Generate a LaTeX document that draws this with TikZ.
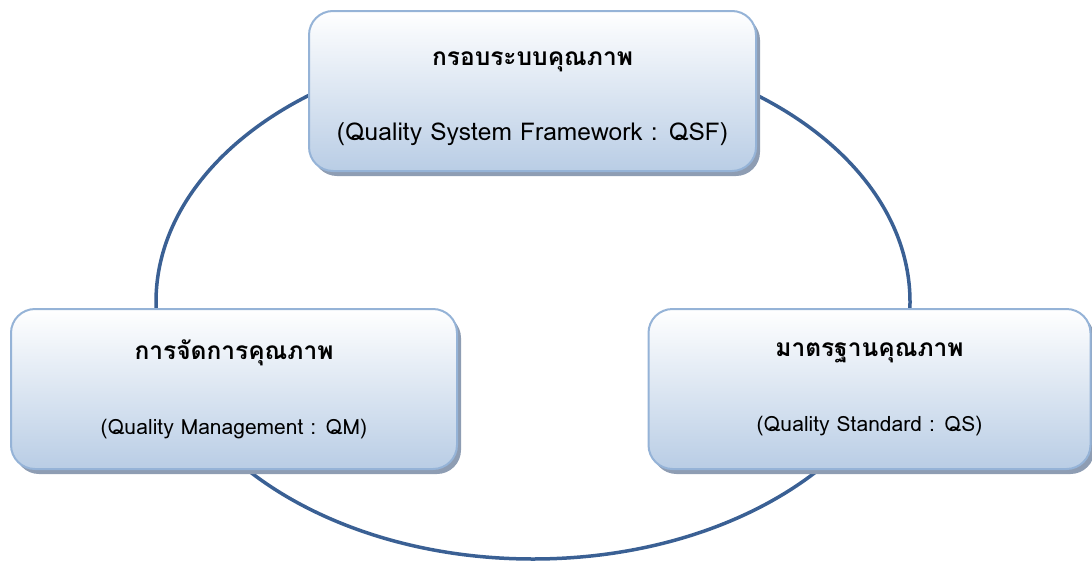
\documentclass[tikz,border=0pt]{standalone}
\usepackage{fontspec}
\usetikzlibrary{shadows}
\newfontfamily\thaifont[Script=Thai]{Loma}
\setmainfont{Loma}
\definecolor{ringblue}{RGB}{58,96,148}
\definecolor{boxline}{RGB}{149,179,215}
\definecolor{boxfill}{RGB}{185,205,229}
\definecolor{boxshadow}{RGB}{142,157,179}

\begin{document}
\begin{tikzpicture}[x=1pt, y=-1pt,
        qbox/.style={draw=boxline, line width=2pt, rounded corners=24pt,
            top color=white, bottom color=boxfill, inner sep=0pt, align=center,
            minimum height=160pt, font=\fontsize{24.5}{75}\selectfont,
            drop shadow={shadow xshift=4pt, shadow yshift=-5pt, fill=boxshadow, opacity=1}}]
    \clip (0, 0) rectangle (1092, 560);
    \draw[ringblue, line width=3.5pt] (533, 302) ellipse [x radius=377pt, y radius=257pt];

    \node[qbox, minimum width=447pt] (qsf) at (532.5, 91)
        {\rule{0pt}{30pt}{\thaifont\bfseries กรอบระบบคุณภาพ}\\
         {\fontsize{24.5}{75}\selectfont (Quality System Framework : QSF)}};
    \node[qbox, minimum width=446pt] (qm) at (234, 389)
        {{\thaifont\bfseries การจัดการคุณภาพ}\\
         {\fontsize{21}{76}\selectfont (Quality Management : QM)}};
    \node[qbox, minimum width=442pt] (qs) at (869.5, 389)
        {{\thaifont\bfseries มาตรฐานคุณภาพ}\\
         {\fontsize{21}{76}\selectfont (Quality Standard : QS)}};
\end{tikzpicture}
\end{document}
